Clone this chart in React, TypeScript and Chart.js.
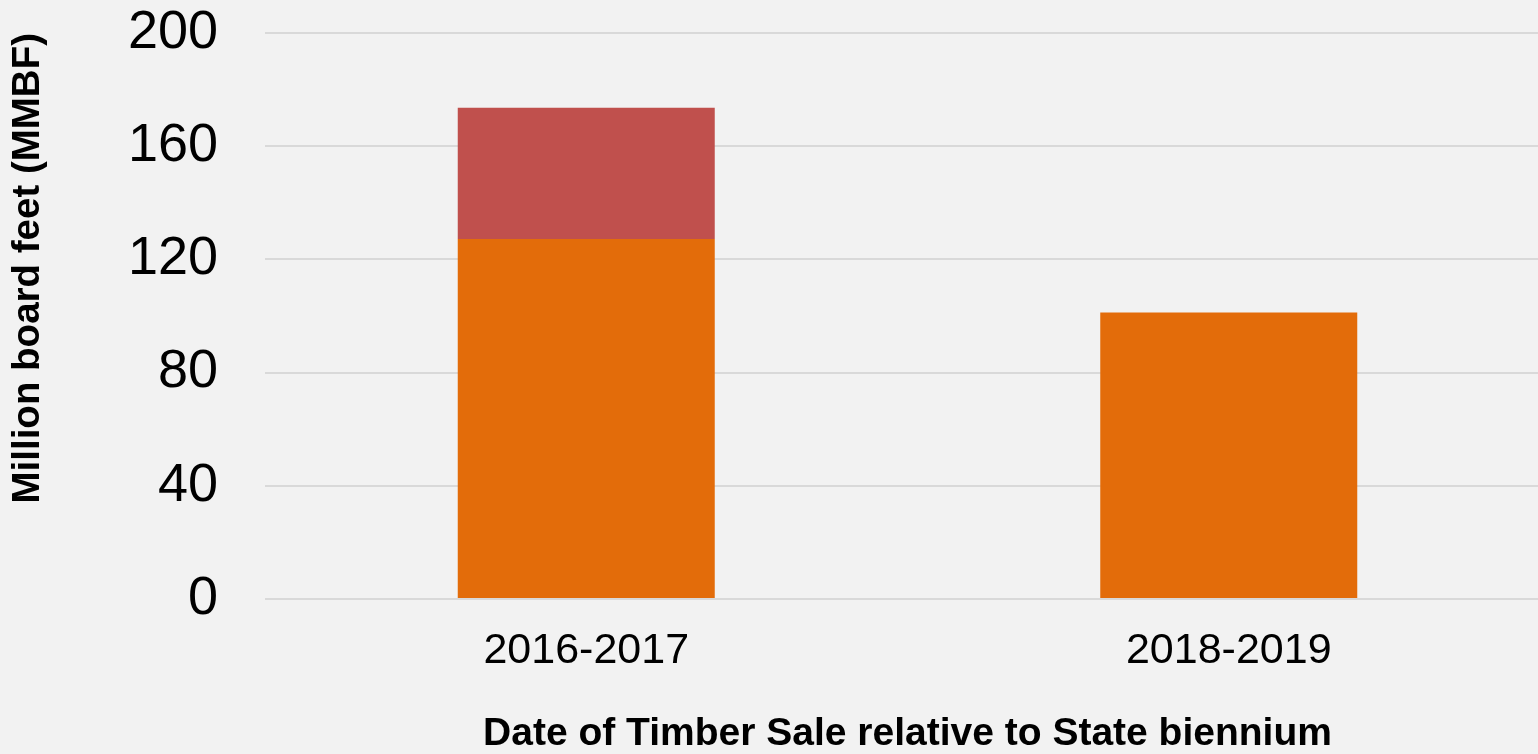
import React, { useEffect, useRef } from "react";
import { Chart, registerables } from "chart.js";

Chart.register(...registerables);

const categories = ["2016-2017", "2018-2019"];
const orangeSeries = [127.2, 101.2];
const redSeries = [46.4, 0];
const yTicks = [0, 40, 80, 120, 160, 200];

const FONT = "'Liberation Sans', Arial, sans-serif";

export default function App() {
  const ref = useRef<HTMLCanvasElement | null>(null);

  useEffect(() => {
    if (!ref.current) return;
    const chart = new Chart(ref.current, {
      type: "bar",
      data: {
        labels: categories,
        datasets: [
          {
            label: "A",
            data: orangeSeries,
            backgroundColor: "#E36C0A",
            borderWidth: 0,
            barPercentage: 0.4,
            categoryPercentage: 1,
          },
          {
            label: "B",
            data: redSeries,
            backgroundColor: "#C0504D",
            borderWidth: 0,
            barPercentage: 0.4,
            categoryPercentage: 1,
          },
        ],
      },
      options: {
        responsive: false,
        animation: false,
        layout: { padding: { top: 33, left: 0, right: 0, bottom: 0 } },
        plugins: {
          legend: { display: false },
          tooltip: { enabled: false },
        },
        scales: {
          x: {
            stacked: true,
            grid: { display: false, drawTicks: false },
            border: { display: false },
            ticks: {
              color: "#000",
              padding: 26,
              font: { family: FONT, size: 43 },
            },
            title: {
              display: true,
              text: "Date of Timber Sale relative to State biennium",
              color: "#000",
              font: { family: FONT, size: 39, weight: "bold", lineHeight: 1 },
              padding: { top: 0, bottom: 0 },
            },
            afterFit: (scale: any) => {
              scale.height = 155;
              scale.paddingLeft = 0;
              scale.paddingRight = 0;
            },
          },
          y: {
            stacked: true,
            min: 0,
            max: 200,
            afterBuildTicks: (scale: any) => {
              scale.ticks = yTicks.map((v) => ({ value: v }));
            },
            grid: { color: "#D9D9D9", lineWidth: 2, drawTicks: false },
            border: { display: false },
            ticks: {
              color: "#000",
              padding: 47,
              font: { family: FONT, size: 54 },
            },
            title: {
              display: true,
              text: "Million board feet (MMBF)",
              align: "end",
              color: "#000",
              font: { family: FONT, size: 38.5, weight: "bold", lineHeight: 1 },
              padding: { top: 9, bottom: 0 },
            },
            afterFit: (scale: any) => {
              scale.width = 265;
              scale.paddingTop = 0;
              scale.paddingBottom = 0;
            },
          },
        },
      },
    });
    return () => chart.destroy();
  }, []);

  return (
    <div
      style={{
        position: "fixed",
        left: 0,
        top: 0,
        width: 1538,
        height: 754,
        overflow: "hidden",
        background: "#F2F2F2",
      }}
    >
      <canvas ref={ref} width={1550} height={754} style={{ display: "block" }} />
    </div>
  );
}
